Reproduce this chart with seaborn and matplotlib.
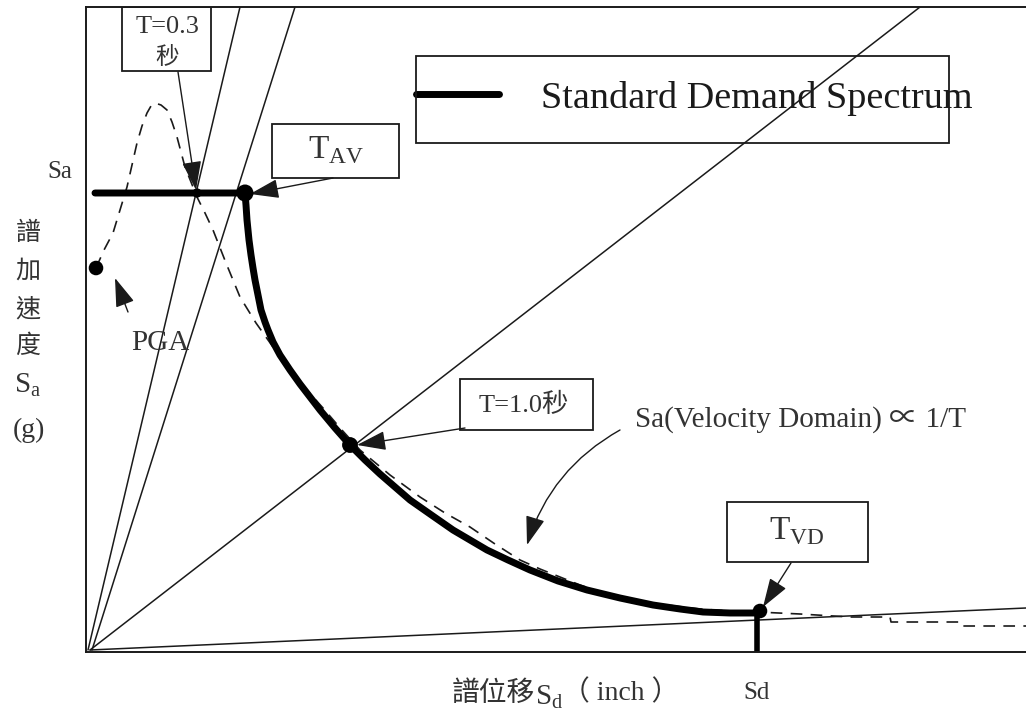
import numpy as np
import matplotlib
matplotlib.use("Agg")
import matplotlib.pyplot as plt
from matplotlib.patches import Rectangle, FancyArrowPatch
import seaborn as sns

sns.set_style("white")
plt.rcParams['font.family'] = ['Liberation Serif', 'Noto Sans CJK TC', 'DejaVu Serif']
plt.rcParams['mathtext.fontset'] = 'custom'
plt.rcParams['mathtext.rm'] = 'Liberation Serif'

# standard demand spectrum, traced (Sd, Sa) in drawing units
std_sd = [9, 159, 160, 161, 163, 165, 167, 169, 172, 175, 179, 182, 187, 194, 204, 214, 224,
          234, 249, 264, 279, 294, 309, 324, 344, 367, 384, 401, 422, 444, 472, 501, 534,
          567, 594, 617, 644, 671]
std_sa = [459, 459, 447, 432, 412, 397, 384, 372, 357, 342, 330, 322, 310, 297, 282, 268, 255,
          242, 224, 207, 192, 178, 165, 152, 138, 122, 112, 102, 92, 82, 71, 62, 54,
          47, 43, 40, 39, 39]

# site response spectrum (dashed)
site_sd = [10, 18, 27, 34, 41, 46, 51, 56, 61, 65, 69, 75, 81, 86, 91, 95, 99, 105, 111, 119,
           127, 140, 154, 170, 187, 204, 220, 237, 255, 274, 304, 334, 359, 384, 409, 434, 454,
           474, 494, 514, 539, 564, 589, 614, 644, 671, 714, 764, 804, 805, 874, 875, 940]
site_sa = [384, 402, 419, 442, 465, 487, 509, 526, 539, 546, 549, 547, 542, 530, 515, 500, 485,
           470, 455, 439, 422, 389, 355, 329, 305, 282, 263, 244, 223, 202, 177, 155, 139, 125,
           108, 92, 83, 75, 67, 60, 54, 49, 46, 43, 41, 40, 38, 35, 35, 30, 30, 26, 26]

# constant period rays: T=0.3, T_AV, T=1.0, T_VD
ray_sd0 = [2, 6, 4, 4]
ray_sa0 = [2, 2, 2, 2]
ray_sd1 = [154, 209, 834, 940]
ray_sa1 = [645, 645, 645, 44]

# marked points: PGA, T=0.3, T_AV, T=1.0, T_VD
pt_sd = [10, 111, 159, 264, 674]
pt_sa = [384, 459, 459, 207, 41]
pt_size = [110, 45, 150, 130, 110]

W, H = 1026, 720
fig = plt.figure(figsize=(W / 100, H / 100), dpi=100)
ax = fig.add_axes([86 / W, 68 / H, 940 / W, 645 / H])
ax.set_xlim(0, 940)
ax.set_ylim(0, 645)

ink = '#1a1a1a'
txt = '#333333'

for a, b, c, d in zip(ray_sd0, ray_sa0, ray_sd1, ray_sa1):
    sns.lineplot(x=[a, c], y=[b, d], ax=ax, color=ink, lw=1.1, sort=False, estimator=None)

sns.lineplot(x=site_sd, y=site_sa, ax=ax, color=ink, lw=1.2, sort=False, estimator=None,
             linestyle=(0, (7, 5)))
sns.lineplot(x=std_sd, y=std_sa, ax=ax, color='black', lw=5, sort=False, estimator=None,
             solid_joinstyle='round', solid_capstyle='round')
sns.lineplot(x=[std_sd[-1], std_sd[-1]], y=[std_sa[-1], 0], ax=ax, color='black', lw=4,
             sort=False, estimator=None)
sns.scatterplot(x=pt_sd, y=pt_sa, s=pt_size, color='black', ax=ax, zorder=5, linewidth=0)

# boxes
boxes = [(36, 581, 89, 64), (186, 474, 127, 54), (330, 509, 533, 87),
         (374, 222, 133, 51), (641, 90, 141, 60)]
for x0, y0, w, h in boxes:
    ax.add_patch(Rectangle((x0, y0), w, h, fill=False, ec=ink, lw=1.3, zorder=4))

ax.text(81, 625, 'T=0.3', ha='center', va='center', fontsize=19, color=txt)
ax.text(81, 595, '秒', ha='center', va='center', fontsize=17, color=txt,
        family=['Noto Sans CJK TC'])
ax.text(250, 502, r'$\mathrm{T}_{\mathrm{AV}}$', ha='center', va='center', fontsize=24, color=txt)
ax.text(438, 247, 'T=1.0秒', ha='center', va='center', fontsize=19, color=txt)
ax.text(711, 122, r'$\mathrm{T}_{\mathrm{VD}}$', ha='center', va='center', fontsize=24, color=txt)
ax.text(74, 309, 'PGA', ha='center', va='center', fontsize=21, color=txt)
ax.text(549, 232, 'Sa(Velocity Domain) ∝ 1/T', ha='left', va='center', fontsize=21, color=txt)

# legend, drawn by hand (text runs past the frame as in the original)
ax.plot([330, 413], [558, 558], color='black', lw=5, solid_capstyle='round')
ax.text(455, 554, 'Standard Demand Spectrum', ha='left', va='center', fontsize=27.5, color=ink)

arrows = [((92, 580), (110, 462)), ((247, 474), (164, 458)), ((379, 224), (271, 207)),
          ((705, 89), (677, 45)), ((42, 340), (29, 374))]
for (xs, ys), (xe, ye) in arrows:
    ax.annotate('', xy=(xe, ye), xytext=(xs, ys),
                arrowprops=dict(arrowstyle='-|>,head_length=0.9,head_width=0.3', color=ink,
                                lw=1.0, shrinkA=0, shrinkB=0, mutation_scale=20))
ax.add_patch(FancyArrowPatch((534, 222), (441, 107), connectionstyle='arc3,rad=0.2',
                             arrowstyle='-|>,head_length=0.9,head_width=0.3', color=ink,
                             lw=1.0, mutation_scale=20, shrinkA=0, shrinkB=0))

ax.set_xticks([])
ax.set_yticks([])
ax.spines['right'].set_visible(False)
for s in ['left', 'top', 'bottom']:
    ax.spines[s].set_linewidth(1.4)
    ax.spines[s].set_color(ink)

# axis labels outside the frame
fig.text(60 / W, 1 - 172 / H, 'Sa', ha='center', va='center', fontsize=18, color=txt)
for ch, yy in zip(['譜', '加', '速', '度'], [233, 271, 309, 346]):
    fig.text(28 / W, 1 - yy / H, ch, ha='center', va='center', fontsize=18, color=txt,
             family=['Noto Sans CJK TC'])
fig.text(28 / W, 1 - 385 / H, r'$\mathrm{S}_{\mathrm{a}}$', ha='center', va='center',
         fontsize=21, color=txt)
fig.text(29 / W, 1 - 430 / H, '(g)', ha='center', va='center', fontsize=20, color=txt)
fig.text(452 / W, 1 - 693 / H, '譜位移', ha='left', va='center', fontsize=20, color=txt,
         family=['Noto Sans CJK TC'])
fig.text(535 / W, 1 - 697 / H, r'$\mathrm{S}_{\mathrm{d}}$', ha='left', va='center',
         fontsize=21, color=txt)
fig.text(562 / W, 1 - 693 / H, '（ inch ）', ha='left', va='center', fontsize=20, color=txt)
fig.text(757 / W, 1 - 693 / H, 'Sd', ha='center', va='center', fontsize=18, color=txt)

fig.savefig('out.png', dpi=100)
